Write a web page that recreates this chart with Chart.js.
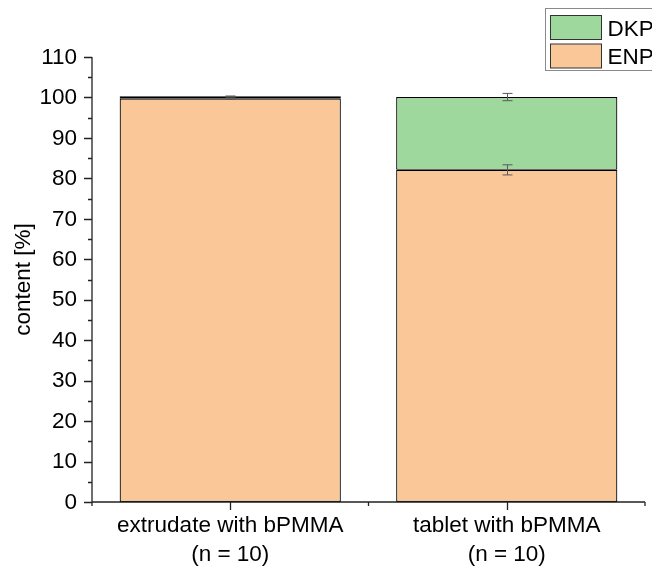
<!DOCTYPE html>
<html>
<head>
<meta charset="utf-8">
<script src="https://cdn.jsdelivr.net/npm/chart.js@4/dist/chart.umd.min.js"></script>
<style>
  html, body { margin: 0; padding: 0; background: #fff; }
  #wrap { width: 652px; height: 569px; position: relative; }
</style>
</head>
<body>
<div id="wrap"><canvas id="c" width="652" height="569"></canvas></div>
<script>
// Sample groups (two-line axis labels)
const categories = [
  ['extrudate with bPMMA', '(n = 10)'],
  ['tablet with bPMMA', '(n = 10)']
];
// Mean content [%] per component
const enpValues = [99.7, 82.1];
const dkpValues = [0.6, 18.0];
// Standard deviations
const enpErrors = [0.2, 1.25];
const dkpErrors = [0.05, 0.9];
// Y-axis range and ticks
const yMin = 0;
const yMax = 110;
const yStep = 10;
const yTitle = 'content [%]';

const FONT = '22.5px "Liberation Sans", Arial, sans-serif';
const AXIS_COLOR = '#222';

// Writes text anchored at (x, y), optionally rotated
function putText(ctx, text, x, y, align, angle) {
  ctx.save();
  ctx.translate(x, y);
  if (angle) ctx.rotate(angle);
  ctx.textAlign = align;
  ctx.fillText(text, 0, 0);
  ctx.restore();
}

// Axis lines plus major/minor tick marks drawn outward
const axisTicks = {
  id: 'axisTicks',
  afterDatasetsDraw(chart) {
    const { ctx, chartArea: a, scales: { x, y } } = chart;
    ctx.save();
    ctx.strokeStyle = AXIS_COLOR;
    ctx.lineWidth = 1.3;
    ctx.beginPath();
    ctx.moveTo(a.left, y.getPixelForValue(yMax));
    ctx.lineTo(a.left, a.bottom);
    ctx.moveTo(a.left, a.bottom);
    ctx.lineTo(a.right, a.bottom);
    for (let v = yMin; v <= yMax; v += yStep / 2) {
      const py = Math.round(y.getPixelForValue(v)) + 0.5;
      const major = (v % yStep) === 0;
      ctx.moveTo(a.left, py);
      ctx.lineTo(a.left - (major ? 8 : 4), py);
    }
    const n = categories.length;
    const w = (a.right - a.left) / n;
    for (let i = 0; i <= n; i++) {
      const px = a.left + i * w;
      ctx.moveTo(px, a.bottom);
      ctx.lineTo(px, a.bottom + 4);
    }
    for (let i = 0; i < n; i++) {
      const px = Math.round(x.getPixelForValue(i)) + 0.5;
      ctx.moveTo(px, a.bottom);
      ctx.lineTo(px, a.bottom + 8);
    }
    ctx.stroke();
    ctx.restore();
  }
};

// Tick labels and axis title
const axisText = {
  id: 'axisText',
  afterDraw(chart) {
    const { ctx, chartArea: a, scales: { x, y } } = chart;
    ctx.save();
    ctx.font = FONT;
    ctx.fillStyle = '#000';
    ctx.textBaseline = 'middle';
    y.ticks.forEach(t => {
      putText(ctx, String(t.value), a.left - 15, y.getPixelForValue(t.value) + 0.5, 'right');
    });
    ctx.textBaseline = 'alphabetic';
    chart.data.labels.forEach((lines, i) => {
      const px = x.getPixelForValue(i);
      lines.forEach((s, k) => putText(ctx, s, px, a.bottom + 30 + k * 29, 'center'));
    });
    putText(ctx, yTitle, 30, (a.top + a.bottom) / 2, 'center', -Math.PI / 2);
    ctx.restore();
  }
};

// Error bars on top of each stacked segment
const errorBars = {
  id: 'errorBars',
  afterDatasetsDraw(chart) {
    const { ctx, scales: { y } } = chart;
    const errs = [enpErrors, dkpErrors];
    ctx.save();
    ctx.strokeStyle = '#5a5a5a';
    ctx.lineWidth = 1;
    chart.data.datasets.forEach((ds, di) => {
      const meta = chart.getDatasetMeta(di);
      meta.data.forEach((bar, i) => {
        let top = 0;
        for (let k = 0; k <= di; k++) top += chart.data.datasets[k].data[i];
        const e = errs[di][i];
        const px = Math.round(bar.x) + 0.5;
        const y1 = y.getPixelForValue(top + e);
        const y2 = y.getPixelForValue(top - e);
        ctx.beginPath();
        ctx.moveTo(px, y1); ctx.lineTo(px, y2);
        ctx.moveTo(px - 5, y1); ctx.lineTo(px + 5, y1);
        ctx.moveTo(px - 5, y2); ctx.lineTo(px + 5, y2);
        ctx.stroke();
      });
    });
    ctx.restore();
  }
};

// Boxed legend in the top-right corner, top series first
const boxLegend = {
  id: 'boxLegend',
  afterDraw(chart) {
    const { ctx } = chart;
    const items = chart.data.datasets.slice().reverse();
    ctx.save();
    ctx.lineWidth = 1;
    ctx.strokeStyle = '#8a8a8a';
    ctx.fillStyle = '#fff';
    ctx.fillRect(545.5, 8.5, 130, 62);
    ctx.strokeRect(545.5, 8.5, 130, 62);
    ctx.font = FONT;
    ctx.textBaseline = 'alphabetic';
    items.forEach((ds, i) => {
      const top = 15.5 + i * 28.5;
      ctx.fillStyle = ds.backgroundColor;
      ctx.fillRect(550.5, top, 51, 24);
      ctx.strokeStyle = '#333';
      ctx.strokeRect(550.5, top, 51, 24);
      ctx.fillStyle = '#000';
      putText(ctx, ds.label, 607.5, top + 20, 'left');
    });
    ctx.restore();
  }
};

new Chart(document.getElementById('c'), {
  type: 'bar',
  data: {
    labels: categories,
    datasets: [
      {
        label: 'ENP',
        data: enpValues,
        backgroundColor: '#FAC898',
        borderColor: '#000',
        borderWidth: 1.2,
        borderSkipped: false
      },
      {
        label: 'DKP',
        data: dkpValues,
        backgroundColor: '#9FD89D',
        borderColor: '#000',
        borderWidth: 1.2,
        borderSkipped: false
      }
    ]
  },
  options: {
    responsive: false,
    animation: false,
    events: [],
    layout: { padding: { left: 0, right: 7, top: 57, bottom: 0 } },
    plugins: { legend: { display: false }, tooltip: { enabled: false } },
    datasets: { bar: { barPercentage: 0.8, categoryPercentage: 1.0 } },
    scales: {
      x: {
        stacked: true,
        grid: { display: false, drawTicks: false },
        border: { display: false },
        ticks: { display: false },
        afterFit(s) { s.height = 67; }
      },
      y: {
        stacked: true,
        min: yMin,
        max: yMax,
        grid: { display: false, drawTicks: false },
        border: { display: false },
        ticks: { display: false, stepSize: yStep },
        afterFit(s) { s.width = 92; }
      }
    }
  },
  plugins: [axisTicks, errorBars, axisText, boxLegend]
});
</script>
</body>
</html>
